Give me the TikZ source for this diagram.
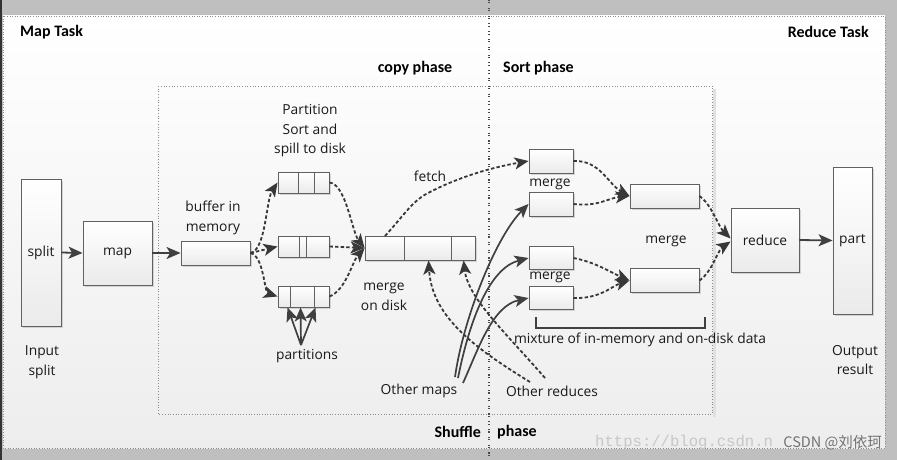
\documentclass[tikz,border=0pt]{standalone}
\usepackage{fontspec}
\setmainfont{Open Sans}
\newfontfamily\hdfont{Carlito}
\newfontfamily\cjkfont{Noto Sans CJK SC}
\newfontfamily\wmfont{Liberation Mono}
\usetikzlibrary{arrows.meta,calc,shadows}
\begin{document}
\begin{tikzpicture}[x=1pt,y=-1pt,
  every node/.style={font=\fontsize{13.8}{19.5}\selectfont, text=black!90, inner sep=0pt, align=center},
  hdr/.style={font=\hdfont\bfseries\fontsize{16}{18}\selectfont, text=black},
  box/.style={draw=black!62, line width=0.9pt, top color=white, bottom color=black!8,
    drop shadow={shadow xshift=1.6pt, shadow yshift=-1.6pt, fill=black!30, opacity=0.5}},
  div/.style={draw=black!62, line width=0.9pt},
  arr/.style={draw=black!75, line width=1.8pt, -{Stealth[length=14pt,width=12pt,inset=3.5pt]}},
  darr/.style={arr, draw=black!78, dash pattern=on 3.4pt off 2.2pt},
  sline/.style={arr, line width=1.7pt}
]
\useasboundingbox (0,0) rectangle (897,460);
% background frame
\fill[black!25] (0,0) rectangle (897,460);
\shade[top color=white, bottom color=black!7] (3,16) rectangle (885,448);
\draw[black!45, dotted, line width=0.6pt] (3,16) rectangle (885,448);
\fill[black!80] (0,0) rectangle (2.2,460);
% inner shuffle region
\fill[black!12] (712.5,89) rectangle (715.5,417);
\draw[black!45, dotted, line width=0.7pt] (158,86) rectangle (712,414);
% phase divider
\draw[black!72, line width=1.6pt, dash pattern=on 1.1pt off 1.3pt on 1.1pt off 4.3pt] (489,0) -- (489,460);

% headings
\node[hdr, anchor=west] (maptask) at (20,32) {Map Task};
\node[hdr, anchor=east] (redtask) at (869,32) {Reduce Task};
\node[hdr] (copyph) at (415,68) {copy phase};
\node[hdr, anchor=west] (sortph) at (503,68) {Sort phase};
\node[hdr, anchor=east] (shuf) at (481,432) {Shuffle};
\node[hdr, anchor=west] (shufph) at (497,432) {phase};

% map side boxes
\node[box, minimum width=40pt, minimum height=147pt] (split) at (41,252.5) {split};
\node[box, minimum width=69pt, minimum height=64pt] (map) at (117.5,253) {map};
\node[box, minimum width=69pt, minimum height=24pt] (buf) at (215.5,253) {};
\node[box, minimum width=51pt, minimum height=21pt] (p1) at (303.5,182.5) {};
\node[box, minimum width=51pt, minimum height=21pt] (p2) at (303.5,246.5) {};
\node[box, minimum width=51pt, minimum height=21pt] (p3) at (303.5,296.5) {};
\node[box, minimum width=110pt, minimum height=24pt] (disk) at (420,248) {};
\draw[div] ([xshift=21pt]p1.north west) -- ([xshift=21pt]p1.south west);
\draw[div] ([xshift=37pt]p1.north west) -- ([xshift=37pt]p1.south west);
\draw[div] ([xshift=22pt]p2.north west) -- ([xshift=22pt]p2.south west);
\draw[div] ([xshift=29pt]p2.north west) -- ([xshift=29pt]p2.south west);
\draw[div] ([xshift=13pt]p3.north west) -- ([xshift=13pt]p3.south west);
\draw[div] ([xshift=37pt]p3.north west) -- ([xshift=37pt]p3.south west);
\draw[div] ([xshift=40pt]disk.north west) -- ([xshift=40pt]disk.south west);
\draw[div] ([xshift=87pt]disk.north west) -- ([xshift=87pt]disk.south west);

% reduce side boxes
\node[box, minimum width=44pt, minimum height=24pt] (m1) at (551,161) {};
\node[box, minimum width=44pt, minimum height=24pt] (m2) at (551,204) {};
\node[box, minimum width=44pt, minimum height=23pt] (m3) at (551,258) {};
\node[box, minimum width=44pt, minimum height=23pt] (m4) at (551,298) {};
\node[box, minimum width=69pt, minimum height=24pt] (ma) at (664.5,196) {};
\node[box, minimum width=69pt, minimum height=24pt] (mb) at (664.5,280.5) {};
\node[box, minimum width=68pt, minimum height=64pt] (red) at (765,240) {reduce};
\node[box, minimum width=39pt, minimum height=147pt] (part) at (852.5,240.5) {part};

% labels
\node (inlab) at (42,362) {Input\\split};
\node (buflab) at (213,218) {buffer in\\memory};
\node (pslab) at (310,131) {Partition\\Sort and\\spill to disk};
\node (partlab) at (307,356) {partitions};
\node (fetchlab) at (430,176) {fetch};
\node (disklab) at (384,297) {merge\\on disk};
\node (mlab1) at (550,184) {merge};
\node (mlab2) at (550,277) {merge};
\node (mlab3) at (666,241) {merge};
\node (mixlab) at (640,340) {mixture of in-memory and on-disk data};
\node (omaps) at (419,391) {Other maps};
\node (oreds) at (552,391) {Other reduces};
\node (outlab) at (855,360) {Output\\result};

% watermark
\node[anchor=base west, font=\wmfont\fontsize{15.6}{16}\selectfont, text=black!22] (wm) at (595,446) {https://blog.csdn.n};
\node[anchor=base east, font=\cjkfont\fontsize{14.5}{15}\selectfont, text=black!55] (wm2) at (882,447) {CSDN @刘依珂};

% bracket
\coordinate (bl) at (536,317);
\coordinate (br) at (705,317);
\draw[black!75, line width=1.5pt] (bl) -- (bl |- 0,328) -- (br |- 0,328) -- (br);

% solid connectors
\draw[arr] (split.east) -- (map.west);
\draw[arr] (map.east) -- (buf.west);
\draw[arr] (red.east) -- (part.west);

% partitions arrows
\coordinate (porig) at (301,345);
\draw[sline] (porig) -- ([xshift=10pt]p3.south west);
\draw[sline] (porig) -- ([xshift=23pt]p3.south west);
\draw[sline] (porig) -- ([xshift=38pt]p3.south west);

% buffer to partitions
\draw[darr] (buf.east) .. controls (266,250) and (266,200) .. (p1.west);
\draw[darr] (buf.east) -- (p2.west);
\draw[darr] (buf.east) .. controls (264,256) and (264,292) .. (p3.west);
% partitions to disk
\draw[darr] (p1.east) .. controls (346,184) and (352,232) .. (disk.west);
\draw[darr] (p2.east) -- (disk.west);
\draw[darr] (p3.east) .. controls (346,290) and (352,262) .. (disk.west);

% fetch
\coordinate (fstart) at (385,236);
\draw[darr] (fstart) .. controls (405,214) and (413,200) .. (430,192) .. controls (465,174) and (500,166) .. (m1.west);

% sort phase merges
\draw[darr] (m1.east) .. controls (600,160) and (608,184) .. (ma.west);
\draw[darr] (m2.east) .. controls (598,207) and (608,198) .. (ma.west);
\draw[darr] (m3.east) .. controls (595,262) and (610,272) .. (mb.west);
\draw[darr] (m4.east) .. controls (600,299) and (612,286) .. (mb.west);
\draw[darr] (ma.east) .. controls (712,205) and (718,226) .. ([yshift=1.5pt]red.west);
\draw[darr] (mb.east) .. controls (712,272) and (718,250) .. ([yshift=-1.5pt]red.west);

% other maps
\coordinate (om1) at (455,377);
\coordinate (om2) at (458,378);
\coordinate (om3) at (463,383);
\draw[sline] (om1) .. controls (463,320) and (495,238) .. (m2.west);
\draw[sline] (om2) .. controls (470,318) and (490,268) .. (m3.west);
\draw[sline] (om3) .. controls (478,350) and (492,306) .. (m4.west);

% other reduces
\coordinate (or1) at (530,382);
\coordinate (or2) at (545,378);
\draw[darr] (or1) .. controls (478,350) and (432,318) .. ([xshift=64pt]disk.south west);
\draw[darr] (or2) .. controls (505,332) and (468,298) .. ([xshift=99pt]disk.south west);
\end{tikzpicture}
\end{document}
